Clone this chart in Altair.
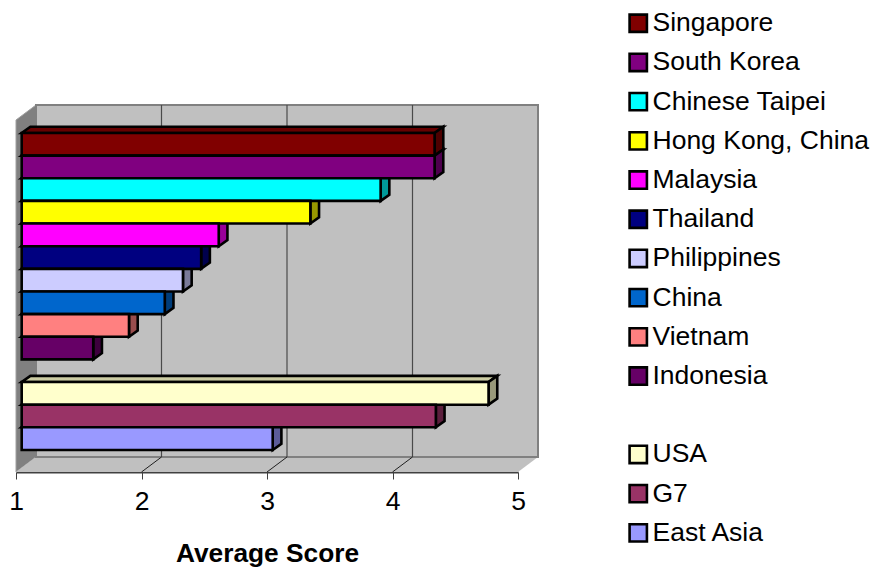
import altair as alt
import pandas as pd

# Survey scores, top to bottom; the blank name leaves a spare row in the legend
names = ["Singapore", "South Korea", "Chinese Taipei", "Hong Kong, China", "Malaysia",
         "Thailand", "Philippines", "China", "Vietnam", "Indonesia", " ",
         "USA", "G7", "East Asia"]
scores = [4.29, 4.29, 3.86, 3.30, 2.57, 2.43, 2.285, 2.14, 1.855, 1.57, None, 4.72, 4.30, 3.00]
colors = ["#800000", "#800080", "#00FFFF", "#FFFF00", "#FF00FF", "#000080", "#CCCCFF",
          "#0066CC", "#FF8080", "#660066", "transparent", "#FFFFCC", "#993366", "#9999FF"]
ticks = [1, 2, 3, 4, 5]

# Pseudo-3D depth, in score units along x and row units along y
PX_PER_SCORE = 125.5
PX_PER_ROW = 22.64
WALL_DX, WALL_DY = 20 / PX_PER_SCORE, 15 / PX_PER_ROW
BAR_DX, BAR_DY = 8.7 / PX_PER_SCORE, 6.2 / PX_PER_ROW
BAR_START = 5.7 / PX_PER_SCORE
OUTLINE = 2.6

ROW_TOP = -28 / PX_PER_ROW
ROW_BOTTOM = ROW_TOP + 367 / PX_PER_ROW
FRONT_TOP = ROW_TOP + WALL_DY
FRONT_BOTTOM = ROW_BOTTOM
BACK_BOTTOM = FRONT_BOTTOM - WALL_DY
GRID_COLOR = "#4A4A4A"


def shade(hex_color, factor):
    channels = [int(hex_color[i:i + 2], 16) for i in (1, 3, 5)]
    return "#" + "".join(f"{round(c * factor):02X}" for c in channels)


x_scale = alt.Scale(domain=[ticks[0], ticks[-1]], nice=False, zero=False)
y_scale = alt.Scale(domain=[ROW_BOTTOM, ROW_TOP], nice=False, zero=False)
x_axis = alt.Axis(values=ticks, grid=False, format="d", tickSize=7, tickWidth=1, tickColor="#404040",
                  domainColor="#404040", domainWidth=2, labelFontSize=26.5, labelColor="#000000",
                  labelFont="Liberation Sans", labelPadding=9, labelFlush=False, labelOverlap=False,
                  title="Average Score", titleFont="Liberation Sans", titleFontSize=26.3,
                  titleFontWeight="bold", titleColor="#000000", titlePadding=26)


def X(field="x"):
    return alt.X(f"{field}:Q", scale=x_scale, axis=x_axis)


def Y(field="y"):
    return alt.Y(f"{field}:Q", scale=y_scale, axis=None)


bars = []
tops = []
sides = []
for row, (name, score, color) in enumerate(zip(names, scores, colors)):
    if score is None:
        continue
    x0, x1 = 1 + BAR_START, score + BAR_START
    bars.append({"name": name, "x": x0, "x2": x1, "y": row, "y2": row + 1})
    tops += [
        {"id": name, "shade": shade(color, 0.8), "y": row, "x": x0, "x2": x1},
        {"id": name, "shade": shade(color, 0.8), "y": row - BAR_DY, "x": x0 + BAR_DX, "x2": x1 + BAR_DX},
    ]
    sides += [
        {"id": name, "shade": shade(color, 0.6), "x": x1, "y": row, "y2": row + 1},
        {"id": name, "shade": shade(color, 0.6), "x": x1 + BAR_DX, "y": row - BAR_DY, "y2": row + 1 - BAR_DY},
    ]

left_wall = alt.Chart(pd.DataFrame({
    "x": [1, 1 + WALL_DX],
    "y": [FRONT_TOP, ROW_TOP],
    "y2": [FRONT_BOTTOM, BACK_BOTTOM],
})).mark_area(color="#808080", stroke="#A0A0A0", strokeWidth=1).encode(x=X(), y=Y(), y2="y2:Q")

floor = alt.Chart(pd.DataFrame({
    "y": [BACK_BOTTOM, FRONT_BOTTOM],
    "x": [1 + WALL_DX, 1],
    "x2": [5 + WALL_DX, 5],
})).mark_area(color="#C0C0C0", orient="horizontal").encode(x=X(), x2="x2:Q", y=Y())

back_wall = alt.Chart(pd.DataFrame({
    "x": [1 + WALL_DX], "x2": [5 + WALL_DX], "y": [ROW_TOP], "y2": [BACK_BOTTOM],
})).mark_rect(fill="#C0C0C0", stroke="#808080", strokeWidth=2).encode(x=X(), x2="x2:Q", y=Y(), y2="y2:Q")

grid_back = alt.Chart(pd.DataFrame({
    "x": [t + WALL_DX for t in ticks[1:-1]],
})).transform_calculate(y=f"{ROW_TOP}", y2=f"{BACK_BOTTOM}").mark_rule(
    color=GRID_COLOR, strokeWidth=1.2).encode(x=X(), y=Y(), y2="y2:Q")

floor_rows = []
for t in ticks[1:-1]:
    floor_rows += [{"tick": t, "x": t, "y": FRONT_BOTTOM}, {"tick": t, "x": t + WALL_DX, "y": BACK_BOTTOM}]
grid_floor = alt.Chart(pd.DataFrame(floor_rows)).mark_line(color="#202020", strokeWidth=1).encode(
    x=X(), y=Y(), detail="tick:N")

top_faces = alt.Chart(pd.DataFrame(tops)).mark_area(
    orient="horizontal", stroke="#000000", strokeWidth=OUTLINE, strokeJoin="miter"
).encode(x=X(), x2="x2:Q", y=Y(), color=alt.Color("shade:N", scale=None), detail="id:N")

side_faces = alt.Chart(pd.DataFrame(sides)).mark_area(
    stroke="#000000", strokeWidth=OUTLINE, strokeJoin="miter"
).encode(x=X(), y=Y(), y2="y2:Q", color=alt.Color("shade:N", scale=None), detail="id:N")

legend = alt.Legend(orient="none", legendX=609, legendY=-95, padding=0, symbolType="square",
                    symbolSize=300, symbolStrokeWidth=2.6, labelFontSize=26.5, labelFont="Liberation Sans",
                    labelColor="#000000", labelLimit=300, labelOffset=1, rowPadding=10.2,
                    values=names, columns=1)
front_faces = alt.Chart(pd.DataFrame(bars)).mark_rect(strokeWidth=OUTLINE, strokeJoin="miter").encode(
    x=X(), x2="x2:Q", y=Y(), y2="y2:Q",
    fill=alt.Fill("name:N", title=None, scale=alt.Scale(domain=names, range=colors), legend=legend),
    stroke=alt.Stroke("name:N", title=None,
                      scale=alt.Scale(domain=names, range=["transparent" if n == " " else "#000000" for n in names]),
                      legend=legend),
)

chart = alt.layer(left_wall, floor, back_wall, grid_back, grid_floor, top_faces, side_faces, front_faces).properties(
    width=502,
    height=367,
    padding={"left": 16, "top": 105, "right": 354, "bottom": 95},
    autosize=alt.AutoSizeParams(type="none"),
    background="white",
).resolve_scale(color="independent").configure_view(stroke=None)

chart.save("out.html", embed_options={"renderer": "svg", "actions": False})
